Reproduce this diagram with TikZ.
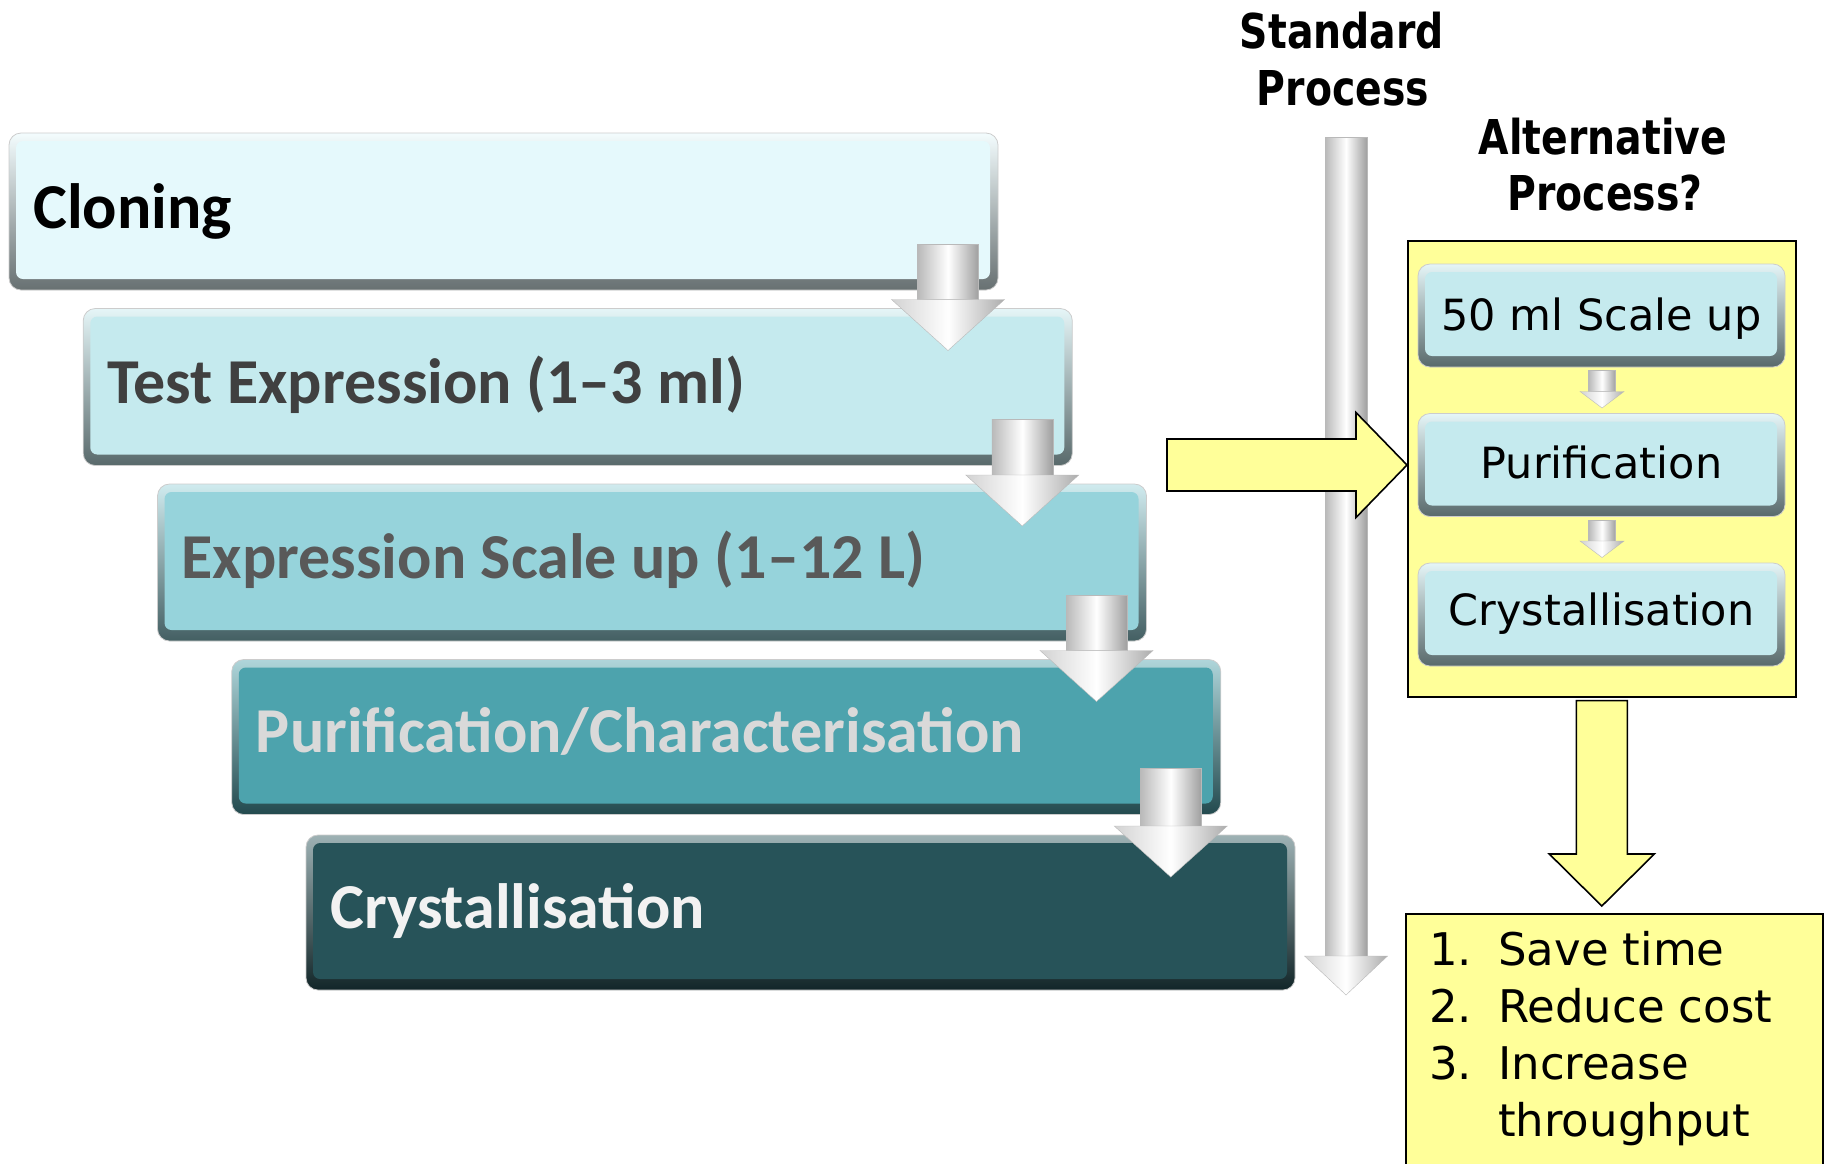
\documentclass[tikz,border=0pt]{standalone}
\usepackage{fontspec}
\setmainfont{DejaVu Sans}
\newfontfamily\boxfont{Carlito}
\newfontfamily\headfont{DejaVu Sans}[FakeStretch=0.82]
\usetikzlibrary{calc}
\definecolor{cA}{HTML}{E5F9FC}
\definecolor{cB}{HTML}{C5EAEE}
\definecolor{cC}{HTML}{96D3DB}
\definecolor{cD}{HTML}{4DA3AD}
\definecolor{cE}{HTML}{275359}
\definecolor{yel}{HTML}{FFFF99}
\definecolor{tB}{HTML}{404040}
\definecolor{tC}{HTML}{595959}
\definecolor{tD}{HTML}{D9D9D9}
\definecolor{tE}{HTML}{F2F2F2}
\tikzset{
  boxouter/.style={rectangle, rounded corners=12pt, anchor=north west, inner sep=0pt, outer sep=0pt,
    draw=gray!40, line width=0.8pt, top color=#1!45!white, bottom color=#1!45!black},
  boxtext/.style={anchor=base west, inner sep=0pt, font=\boxfont\bfseries\fontsize{64}{70}\selectfont},
  headtext/.style={anchor=base, inner sep=0pt, font=\headfont\bfseries\fontsize{48}{54}\selectfont},
  alttext/.style={anchor=base, inner sep=0pt, font=\fontsize{43}{50}\selectfont},
  restext/.style={anchor=base west, inner sep=0pt, font=\fontsize{45}{52}\selectfont},
  yarrow/.style={fill=yel, draw=black, line width=1.6pt, line join=miter},
  shaftshade/.style={left color=gray!55, right color=gray!75, middle color=white, draw=gray!55, line width=0.4pt},
  headshade/.style={left color=gray!35, right color=gray!65, middle color=white, draw=gray!55, line width=0.4pt},
}
\newcommand{\bevbox}[6]{%
  \node[boxouter=#6, minimum width=#4, minimum height=#5] (#1) at (#2,#3) {};
  \fill[#6, rounded corners=7pt] ([xshift=7pt,yshift=-8pt]#1.north west) rectangle ([xshift=-8pt,yshift=11pt]#1.south east);
}
\newcommand{\chev}[5]{%
  \path[shaftshade] let \p1=(#1), \p2=(#2) in (\x1-#3,\y1) rectangle (\x1+#3,\y2+#5);
  \path[headshade] let \p1=(#1), \p2=(#2) in (\x1-#4,\y2+#5) -- (\x1+#4,\y2+#5) -- (\x1,\y2) -- cycle;
}
\begin{document}
\begin{tikzpicture}[x=1pt,y=-1pt]
\useasboundingbox (0,0) rectangle (1827,1163);
\clip (0,0) rectangle (1827,1163);

% left staircase
\bevbox{b0}{9}{133}{989pt}{157pt}{cA}
\bevbox{b1}{83.25}{308.5}{989pt}{157pt}{cB}
\bevbox{b2}{157.5}{484}{989pt}{157pt}{cC}
\bevbox{b3}{231.75}{659.5}{989pt}{155pt}{cD}
\bevbox{b4}{306}{835}{989pt}{155pt}{cE}
\node[boxtext, text=black] (t0) at ([xshift=24pt,yshift=-95pt]b0.north west) {Cloning};
\node[boxtext, text=tB] (t1) at ([xshift=24pt,yshift=-95pt]b1.north west) {Test Expression (1\textendash 3 ml)};
\node[boxtext, text=tC] (t2) at ([xshift=24pt,yshift=-94pt]b2.north west) {Expression Scale up (1\textendash 12 L)};
\node[boxtext, text=tD] (t3) at ([xshift=24pt,yshift=-93pt]b3.north west) {Purification/Characterisation};
\node[boxtext, text=tE] (t4) at ([xshift=24pt,yshift=-93pt]b4.north west) {Crystallisation};
\chev{[xshift=-50pt,yshift=46pt]b0.south east}{[yshift=-42pt]b1.north}{30.5pt}{56.5pt}{51pt}
\chev{[xshift=-50pt,yshift=46pt]b1.south east}{[yshift=-42pt]b2.north}{30.5pt}{56.5pt}{51pt}
\chev{[xshift=-50pt,yshift=46pt]b2.south east}{[yshift=-42pt]b3.north}{30.5pt}{56.5pt}{51pt}
\chev{[xshift=-50pt,yshift=46pt]b3.south east}{[yshift=-42pt]b4.north}{30.5pt}{56.5pt}{51pt}

% headings
\node[headtext] (sp1) at (1342,48) {Standard};
\node[headtext] (sp2) at (1343,105) {Process};
\node[headtext] (ap1) at (1603,154) {Alternative};
\node[headtext] (ap2) at (1605,210) {Process?};

% standard process arrow
\coordinate (sps) at (1346,137);
\coordinate (spe) at (1346,995);
\chev{sps}{spe}{21pt}{41.5pt}{39pt}

% alternative process box
\node[draw=black, fill=yel, line width=1.6pt, anchor=north west, inner sep=0pt, minimum width=388pt, minimum height=456pt] (alt) at (1407,240) {};
\bevbox{q1}{1418}{264}{367pt}{103pt}{cB}
\bevbox{q2}{1418}{413.5}{367pt}{103pt}{cB}
\bevbox{q3}{1418}{563}{367pt}{103pt}{cB}
\node[alttext] (q1t) at ([yshift=-14.5pt]q1.center) {50 ml Scale up};
\node[alttext] (q2t) at ([yshift=-13pt]q2.center) {Purification};
\node[alttext] (q3t) at ([yshift=-11pt]q3.center) {Crystallisation};
\chev{[xshift=-183pt,yshift=-3.5pt]q1.south east}{[yshift=5.5pt]q2.north}{13.5pt}{22pt}{16.5pt}
\chev{[xshift=-183pt,yshift=-3.5pt]q2.south east}{[yshift=5.5pt]q3.north}{13.5pt}{22pt}{16.5pt}

% yellow arrow into alternative box
\coordinate (yrs) at (1167,465);
\path[yarrow] let \p1=(yrs), \p2=(alt.west) in
  (\x1,\y1+26pt) -- (\x2-51pt,\y1+26pt) -- (\x2-51pt,\y1+52.5pt) -- (\x2,\y1)
  -- (\x2-51pt,\y1-52.5pt) -- (\x2-51pt,\y1-26pt) -- (\x1,\y1-26pt) -- cycle;

% results box
\node[draw=black, fill=yel, line width=1.6pt, anchor=north west, inner sep=0pt, minimum width=417pt, minimum height=280pt] (res) at (1405,913) {};
\node[restext] (r1) at (1429,965) {\makebox[69pt][l]{1.}Save time};
\node[restext] (r2) at (1429,1022) {\makebox[69pt][l]{2.}Reduce cost};
\node[restext] (r3) at (1429,1079) {\makebox[69pt][l]{3.}Increase};
\node[restext] (r4) at (1429,1136) {\hspace*{69pt}throughput};

% yellow arrow down
\path[yarrow] let \p1=(alt.south), \p2=(res.north) in
  (\x1-25.5pt,\y1-3pt) -- (\x1+25.5pt,\y1-3pt) -- (\x1+25.5pt,\y2+59pt) -- (\x1+52.5pt,\y2+59pt)
  -- (\x1,\y2+7pt) -- (\x1-52.5pt,\y2+59pt) -- (\x1-25.5pt,\y2+59pt) -- cycle;
\end{tikzpicture}
\end{document}
